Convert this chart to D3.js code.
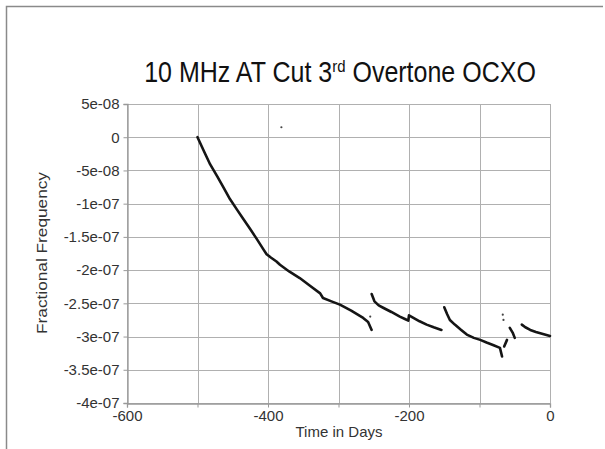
<!DOCTYPE html>
<html>
<head>
<meta charset="utf-8">
<script src="https://cdn.jsdelivr.net/npm/d3@7"></script>
<style>
  body { margin: 0; background: #fff; }
  text { font-family: "Liberation Sans", Arial, sans-serif; }
</style>
</head>
<body>
<div id="chart"></div>
<script>
// Oscillator ageing record, one array pair per continuous run
const segDays = [
  [-500, -490, -482, -472, -463, -454, -444, -435, -426, -416, -407, -402, -396, -388, -383, -370, -355, -340, -326, -322, -310, -298, -282, -265, -258, -253],
  [-253, -249, -243, -236, -225, -213, -205, -201, -200, -195, -185, -175, -165, -154],
  [-150, -146, -142, -135, -126, -118, -108, -99, -90, -80, -71, -68],
  [-65, -61],
  [-57, -53, -50],
  [-40, -35, -28, -20, -10, 0]
];
const segValues = [
  [0, -2.3e-08, -4.1e-08, -5.9e-08, -7.6e-08, -9.3e-08, -1.09e-07, -1.23e-07, -1.37e-07, -1.53e-07, -1.68e-07, -1.76e-07, -1.81e-07, -1.87e-07, -1.92e-07, -2.02e-07, -2.12e-07, -2.24e-07, -2.35e-07, -2.42e-07, -2.47e-07, -2.52e-07, -2.61e-07, -2.72e-07, -2.78e-07, -2.9e-07],
  [-2.36e-07, -2.47e-07, -2.53e-07, -2.57e-07, -2.63e-07, -2.7e-07, -2.74e-07, -2.76e-07, -2.68e-07, -2.71e-07, -2.77e-07, -2.82e-07, -2.86e-07, -2.9e-07],
  [-2.56e-07, -2.66e-07, -2.75e-07, -2.82e-07, -2.9e-07, -2.97e-07, -3.02e-07, -3.05e-07, -3.09e-07, -3.13e-07, -3.17e-07, -3.3e-07],
  [-3.15e-07, -3.05e-07],
  [-2.87e-07, -2.94e-07, -3.02e-07],
  [-2.82e-07, -2.86e-07, -2.9e-07, -2.93e-07, -2.96e-07, -2.99e-07]
];
// isolated readings away from the main trace
const strayDays = [-381, -67, -66, -255];
const strayValues = [1.5e-08, -2.67e-07, -2.75e-07, -2.7e-07];

const xTicks = [-600, -500, -400, -300, -200, -100, 0];
const xTickLabels = ["-600", "", "-400", "", "-200", "", "0"];
const yTicks = [5e-08, 0, -5e-08, -1e-07, -1.5e-07, -2e-07, -2.5e-07, -3e-07, -3.5e-07, -4e-07];
const yTickLabels = ["5e-08", "0", "-5e-08", "-1e-07", "-1.5e-07", "-2e-07", "-2.5e-07", "-3e-07", "-3.5e-07", "-4e-07"];

const WIDTH = 605;
const HEIGHT = 449;
const margin = { top: 104, right: 55, bottom: 46, left: 127 };

const svg = d3.select("#chart").append("svg")
  .attr("width", WIDTH)
  .attr("height", HEIGHT);

// outer frame (only top and left edges fall inside the page)
svg.append("path")
  .attr("d", `M6.5,${HEIGHT} V6.5 H${WIDTH - 2}`)
  .attr("fill", "none")
  .attr("stroke", "#8a8a8a")
  .attr("stroke-width", 1.5);

const x = d3.scaleLinear().domain([-600, 0]).range([margin.left, WIDTH - margin.right]);
const y = d3.scaleLinear().domain([-4e-07, 5e-08]).range([HEIGHT - margin.bottom, margin.top]);

// grid
const grid = svg.append("g").attr("stroke", "#b0b0b0").attr("stroke-width", 1);
grid.selectAll("line.v").data(xTicks).join("line")
  .attr("class", "v")
  .attr("x1", d => Math.round(x(d)) + 0.5).attr("x2", d => Math.round(x(d)) + 0.5)
  .attr("y1", y(5e-08)).attr("y2", y(-4e-07));
grid.selectAll("line.h").data(yTicks).join("line")
  .attr("class", "h")
  .attr("y1", d => Math.round(y(d)) + 0.5).attr("y2", d => Math.round(y(d)) + 0.5)
  .attr("x1", x(-600)).attr("x2", x(0));

// axes
const yAxis = svg.append("g")
  .attr("transform", `translate(${Math.round(x(-600)) + 0.5},0)`)
  .call(d3.axisLeft(y).tickValues(yTicks).tickFormat((d, i) => yTickLabels[i]).tickSize(4).tickPadding(4));
const xAxis = svg.append("g")
  .attr("transform", `translate(0,${Math.round(y(-4e-07)) + 0.5})`)
  .call(d3.axisBottom(x).tickValues(xTicks).tickFormat((d, i) => xTickLabels[i]).tickSize(4).tickPadding(3));

[xAxis, yAxis].forEach(a => {
  a.select(".domain").attr("stroke", "#999").attr("stroke-width", 1.3);
  a.selectAll(".tick line").attr("stroke", "#999");
  a.selectAll(".tick text")
    .attr("fill", "#333")
    .style("font-size", "15px")
    .style("font-family", "'Liberation Sans', Arial, sans-serif");
});

// data trace
const line = d3.line()
  .x(d => x(d[0]))
  .y(d => y(d[1]));

svg.append("g").selectAll("path")
  .data(segDays.map((days, i) => days.map((d, j) => [d, segValues[i][j]])))
  .join("path")
  .attr("d", line)
  .attr("fill", "none")
  .attr("stroke", "#151515")
  .attr("stroke-width", 2.6)
  .attr("stroke-linejoin", "round")
  .attr("stroke-linecap", "round");

svg.append("g").selectAll("circle")
  .data(strayDays.map((d, i) => [d, strayValues[i]]))
  .join("circle")
  .attr("cx", d => x(d[0]))
  .attr("cy", d => y(d[1]))
  .attr("r", 1.1)
  .attr("fill", "#444");

// titles (glyphs drawn a little taller than wide)
const title = svg.append("text")
  .attr("transform", "translate(340,82) scale(1,1.15)")
  .attr("text-anchor", "middle")
  .attr("fill", "#111")
  .style("font-size", "25px");
title.append("tspan").text("10 MHz AT Cut 3");
title.append("tspan").attr("dy", -9).style("font-size", "15px").text("rd");
title.append("tspan").attr("dy", 9).text(" Overtone OCXO");

svg.append("text")
  .attr("x", 339)
  .attr("y", 437)
  .attr("text-anchor", "middle")
  .attr("fill", "#333")
  .style("font-size", "15px")
  .text("Time in Days");

svg.append("text")
  .attr("transform", "translate(47,253) rotate(-90) scale(1.15,1)")
  .attr("text-anchor", "middle")
  .attr("fill", "#333")
  .style("font-size", "15px")
  .text("Fractional Frequency");
</script>
</body>
</html>
